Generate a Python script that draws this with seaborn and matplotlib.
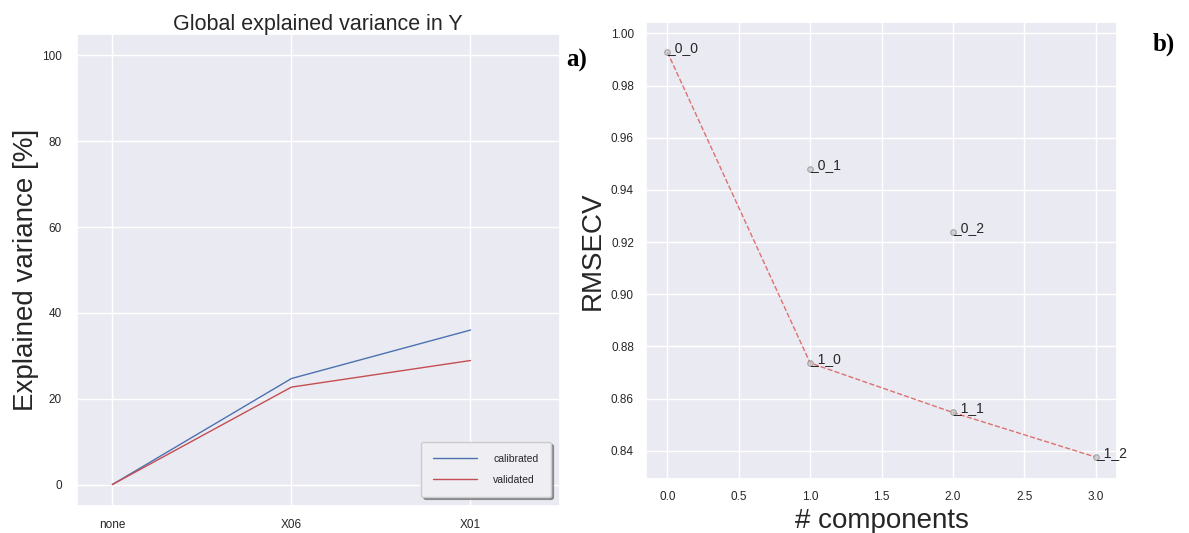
import matplotlib
matplotlib.use("Agg")
import matplotlib.pyplot as plt
import seaborn as sns
import pandas as pd

# ---- data ----
steps = ["none", "X06", "X01"]
calibrated = [0.0, 24.7, 36.0]
validated = [0.0, 22.7, 28.9]

components = [0, 1, 2, 1, 2, 3]
rmsecv = [0.9929, 0.9480, 0.9240, 0.8737, 0.8547, 0.8376]
point_labels = ["_0_0", "_0_1", "_0_2", "_1_0", "_1_1", "_1_2"]
best_path = ["_0_0", "_1_0", "_1_1", "_1_2"]

sns.set_theme(style="darkgrid")
plt.rcParams["font.family"] = ["Liberation Sans", "DejaVu Sans"]
plt.rcParams["text.color"] = ".15"
plt.rcParams["axes.labelcolor"] = ".15"

fig = plt.figure(figsize=(11.89, 5.33), dpi=100)

# ---- panel a ----
ax1 = fig.add_axes([0.0644, 0.0507, 0.4066, 0.8856])
df_a = pd.DataFrame({
    "step": steps * 2,
    "value": calibrated + validated,
    "set": ["calibrated"] * 3 + ["validated"] * 3,
})
sns.lineplot(data=df_a, x="step", y="value", hue="set",
             palette={"calibrated": "#4C72B0", "validated": "#C44E52"},
             linewidth=1.0, ax=ax1, sort=False)
ax1.set_xlim(-0.2, 2.5)
ax1.set_ylim(-5, 105)
ax1.set_yticks([0, 20, 40, 60, 80, 100])
ax1.set_title("Global explained variance in Y", fontsize=15.5, pad=3)
ax1.set_xlabel("")
ax1.set_ylabel("Explained variance [%]", fontsize=20, labelpad=2)
ax1.tick_params(axis="x", labelsize=8.5, pad=3.5)
ax1.tick_params(axis="y", labelsize=8.5, pad=4.5)
leg = ax1.legend(loc="lower right", frameon=True, shadow=True, fancybox=True,
                 fontsize=7.5, handlelength=4.2, handletextpad=1.6,
                 borderpad=1.15, labelspacing=1.05, borderaxespad=0.9,
                 title=None)
leg.get_frame().set_facecolor("#EEEEF3")
leg.get_frame().set_edgecolor("#CCCCCC")

# ---- panel b ----
ax2 = fig.add_axes([0.5431, 0.1013, 0.3966, 0.858])
df_b = pd.DataFrame({"comp": components, "rmsecv": rmsecv, "label": point_labels})
path = df_b.set_index("label").loc[best_path].reset_index()
sns.lineplot(data=path, x="comp", y="rmsecv", sort=False, ax=ax2,
             color="#D9534F", alpha=0.8, linewidth=1.0, linestyle="--")
sns.scatterplot(data=df_b, x="comp", y="rmsecv", ax=ax2, s=16,
                color="#C8C8C8", edgecolor="#909090", linewidth=0.8, alpha=0.75,
                zorder=3)
for _, r in df_b.iterrows():
    ax2.annotate(r["label"], (r["comp"], r["rmsecv"]), fontsize=10,
                 color=".15")
ax2.set_xlim(-0.151, 3.151)
ax2.set_ylim(0.8292, 1.0045)
ax2.set_xticks([0.0, 0.5, 1.0, 1.5, 2.0, 2.5, 3.0])
ax2.set_yticks([0.84, 0.86, 0.88, 0.90, 0.92, 0.94, 0.96, 0.98, 1.00])
ax2.set_xlabel("# components", fontsize=20, labelpad=4)
ax2.set_ylabel("RMSECV", fontsize=20, labelpad=4)
ax2.tick_params(axis="x", labelsize=8.5, pad=2.5)
ax2.tick_params(axis="y", labelsize=8.5, pad=2.5)

# ---- panel tags ----
fig.text(0.476, 0.876, "a)", fontsize=18, fontweight="bold", va="baseline",
         family=["Liberation Serif", "DejaVu Serif"], color="black")
fig.text(0.9697, 0.906, "b)", fontsize=18, fontweight="bold", va="baseline",
         family=["Liberation Serif", "DejaVu Serif"], color="black")

fig.savefig("out.png", dpi=100)
